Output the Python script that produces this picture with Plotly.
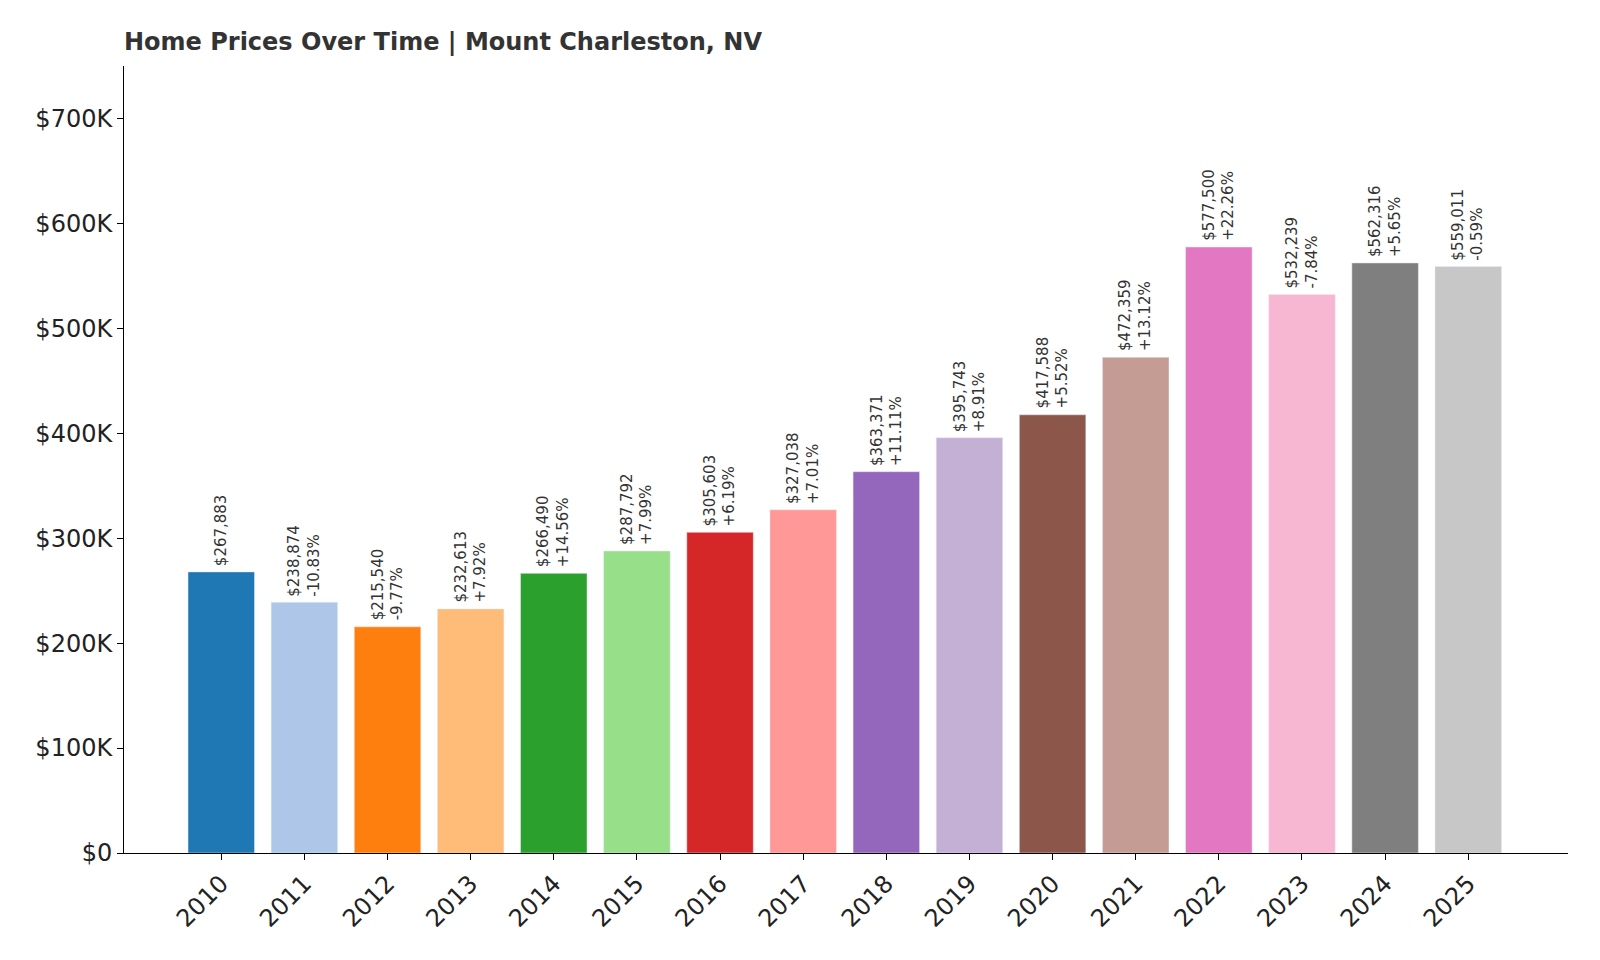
import plotly.graph_objects as go

years = [str(y) for y in range(2010, 2026)]
prices = [267883, 238874, 215540, 232613, 266490, 287792, 305603, 327038,
          363371, 395743, 417588, 472359, 577500, 532239, 562316, 559011]
changes = [None, "-10.83%", "-9.77%", "+7.92%", "+14.56%", "+7.99%", "+6.19%", "+7.01%",
           "+11.11%", "+8.91%", "+5.52%", "+13.12%", "+22.26%", "-7.84%", "+5.65%", "-0.59%"]
colors = ["#1f77b4", "#aec7e8", "#ff7f0e", "#ffbb78", "#2ca02c", "#98df8a", "#d62728", "#ff9896",
          "#9467bd", "#c5b0d5", "#8c564b", "#c49c94", "#e377c2", "#f7b6d2", "#7f7f7f", "#c7c7c7"]
ytick_vals = [0, 100000, 200000, 300000, 400000, 500000, 600000, 700000]
ytick_text = ["$0", "$100K", "$200K", "$300K", "$400K", "$500K", "$600K", "$700K"]

fig = go.Figure(go.Bar(x=years, y=prices, marker_color=colors, width=0.8))

# category axis: place annotations by index, not by the numeric-looking label
for i, (p, c) in enumerate(zip(prices, changes)):
    label = f"${p:,}" if c is None else f"${p:,}<br>{c}"
    fig.add_annotation(x=i, y=p, text=label, textangle=-90, showarrow=False,
                       yanchor="bottom", yshift=4, align="left",
                       font=dict(size=15, color="#333"))

fig.update_xaxes(type="category", range=[-1.17, 16.2], tickangle=-45, ticks="outside",
                 tickwidth=1, ticklen=6, tickcolor="#000", showline=True, linecolor="#000",
                 tickfont=dict(size=24, color="#222"), showgrid=False)
fig.update_yaxes(range=[0, 750000], tickvals=ytick_vals, ticktext=ytick_text,
                 ticks="outside", ticklen=6, tickcolor="#000", showline=True,
                 linecolor="#000", tickfont=dict(size=24, color="#222"),
                 showgrid=False, zeroline=False)

fig.update_layout(width=1600, height=960, plot_bgcolor="white", paper_bgcolor="white",
                  font=dict(family="DejaVu Sans"), showlegend=False,
                  margin=dict(l=116, r=40, t=58, b=115),
                  title=dict(text="<b>Home Prices Over Time | Mount Charleston, NV</b>",
                             x=116/1600, xanchor="left", y=0.965, yanchor="middle",
                             font=dict(size=24, color="#333")))

fig.write_html("out.html")
